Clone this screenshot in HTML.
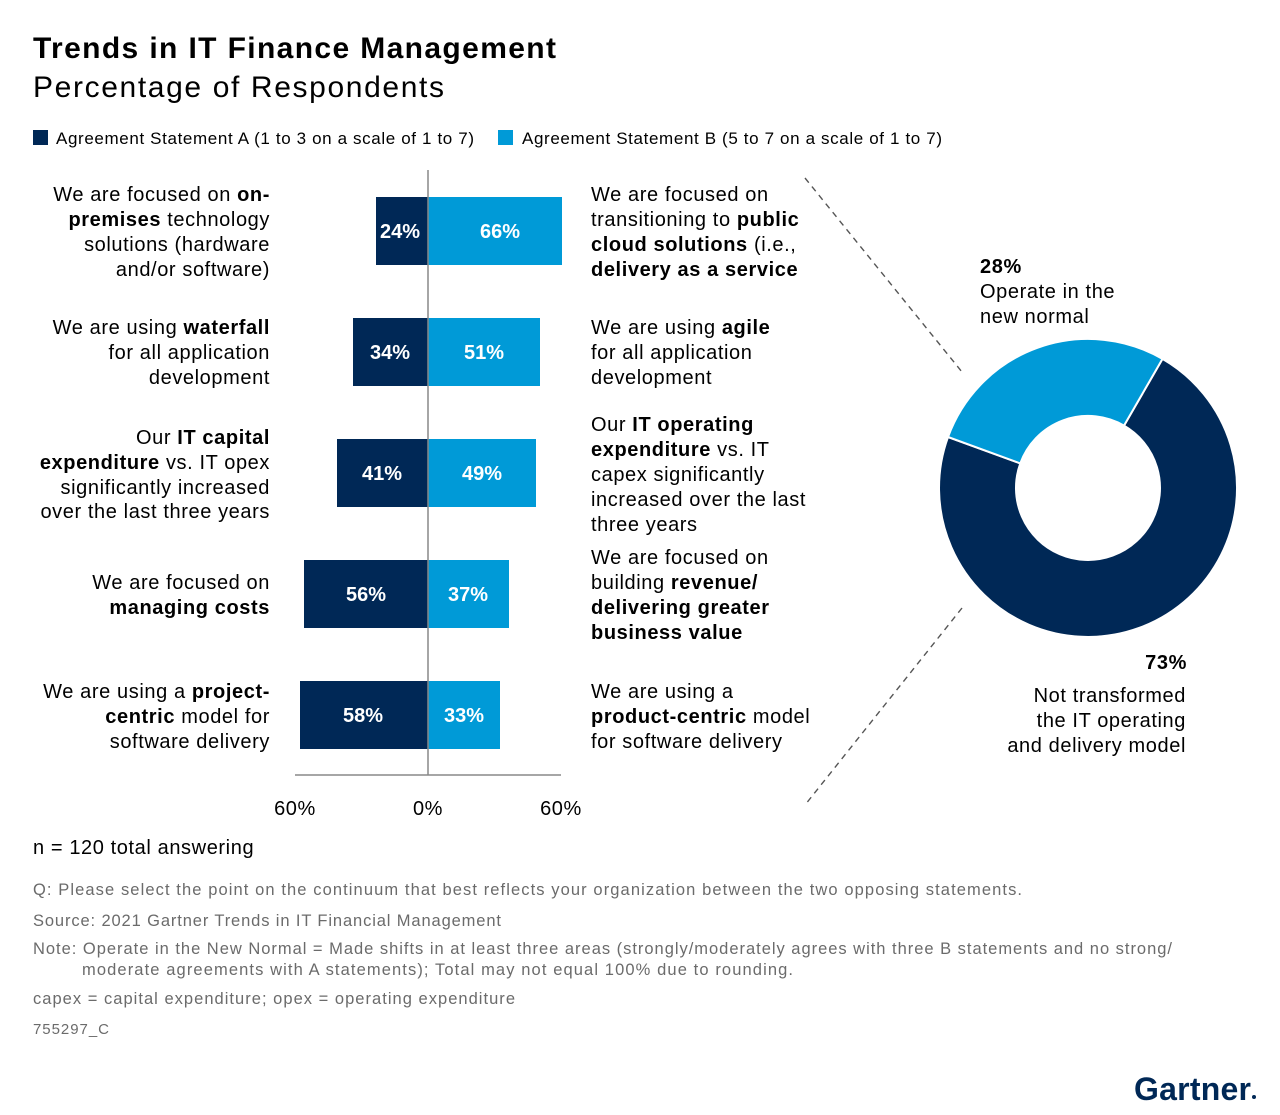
<!DOCTYPE html>
<html><head><meta charset="utf-8"><style>
html,body{margin:0;padding:0;background:#fff;}
svg{display:block;font-family:"Liberation Sans",sans-serif;}
.t{font-size:20px;fill:#000;letter-spacing:0.6px;}
.b{font-weight:bold;}
.r{text-anchor:end;}
.w{fill:#fff;font-weight:bold;font-size:20px;text-anchor:middle;}
.f{font-size:16.5px;fill:#6b6b6b;}
</style></head><body>
<svg width="1280" height="1115" viewBox="0 0 1280 1115" xmlns="http://www.w3.org/2000/svg">
<text x="33" y="58" font-size="30" font-weight="bold" fill="#000" textLength="523">Trends in IT Finance Management</text>
<text x="33" y="97" font-size="30" fill="#000" textLength="411">Percentage of Respondents</text>
<rect x="33" y="130" width="15" height="15" fill="#002856"/>
<text x="56" y="144" font-size="17" textLength="418">Agreement Statement A (1 to 3 on a scale of 1 to 7)</text>
<rect x="498" y="130" width="15" height="15" fill="#009ad7"/>
<text x="522" y="144" font-size="17" textLength="420">Agreement Statement B (5 to 7 on a scale of 1 to 7)</text>

<rect x="376" y="197" width="52" height="68" fill="#002856"/><rect x="428" y="197" width="134" height="68" fill="#009ad7"/>
<text class="w" x="400" y="238">24%</text><text class="w" x="500" y="238">66%</text>
<rect x="353" y="318" width="75" height="68" fill="#002856"/><rect x="428" y="318" width="112" height="68" fill="#009ad7"/>
<text class="w" x="390" y="359">34%</text><text class="w" x="484" y="359">51%</text>
<rect x="337" y="439" width="91" height="68" fill="#002856"/><rect x="428" y="439" width="108" height="68" fill="#009ad7"/>
<text class="w" x="382" y="480">41%</text><text class="w" x="482" y="480">49%</text>
<rect x="304" y="560" width="124" height="68" fill="#002856"/><rect x="428" y="560" width="81" height="68" fill="#009ad7"/>
<text class="w" x="366" y="601">56%</text><text class="w" x="468" y="601">37%</text>
<rect x="300" y="681" width="128" height="68" fill="#002856"/><rect x="428" y="681" width="72" height="68" fill="#009ad7"/>
<text class="w" x="363" y="722">58%</text><text class="w" x="464" y="722">33%</text>
<line x1="428" y1="170" x2="428" y2="775" stroke="#888" stroke-width="1.5"/>
<line x1="295" y1="775" x2="561" y2="775" stroke="#888" stroke-width="1.5"/>
<text class="t" x="295" y="815" text-anchor="middle">60%</text>
<text class="t" x="428" y="815" text-anchor="middle">0%</text>
<text class="t" x="561" y="815" text-anchor="middle">60%</text>

<g class="t r">
<text x="270" y="201">We are focused on <tspan class="b">on-</tspan></text>
<text x="270" y="226"><tspan class="b">premises</tspan> technology</text>
<text x="270" y="251">solutions (hardware</text>
<text x="270" y="276">and/or software)</text>
<text x="270" y="334">We are using <tspan class="b">waterfall</tspan></text>
<text x="270" y="359">for all application</text>
<text x="270" y="384">development</text>
<text x="270" y="444">Our <tspan class="b">IT capital</tspan></text>
<text x="270" y="469"><tspan class="b">expenditure</tspan> vs. IT opex</text>
<text x="270" y="494">significantly increased</text>
<text x="270" y="518">over the last three years</text>
<text x="270" y="589">We are focused on</text>
<text x="270" y="614" class="b">managing costs</text>
<text x="270" y="698">We are using a <tspan class="b">project-</tspan></text>
<text x="270" y="723"><tspan class="b">centric</tspan> model for</text>
<text x="270" y="748">software delivery</text>
</g>
<g class="t">
<text x="591" y="201">We are focused on</text>
<text x="591" y="226">transitioning to <tspan class="b">public</tspan></text>
<text x="591" y="251"><tspan class="b">cloud solutions</tspan> (i.e.,</text>
<text x="591" y="276" class="b">delivery as a service</text>
<text x="591" y="334">We are using <tspan class="b">agile</tspan></text>
<text x="591" y="359">for all application</text>
<text x="591" y="384">development</text>
<text x="591" y="431">Our <tspan class="b">IT operating</tspan></text>
<text x="591" y="456"><tspan class="b">expenditure</tspan> vs. IT</text>
<text x="591" y="481">capex significantly</text>
<text x="591" y="506">increased over the last</text>
<text x="591" y="531">three years</text>
<text x="591" y="564">We are focused on</text>
<text x="591" y="589">building <tspan class="b">revenue/</tspan></text>
<text x="591" y="614" class="b">delivering greater</text>
<text x="591" y="639" class="b">business value</text>
<text x="591" y="698">We are using a</text>
<text x="591" y="723"><tspan class="b">product-centric</tspan> model</text>
<text x="591" y="748">for software delivery</text>
</g>

<line x1="805" y1="178" x2="962" y2="372" stroke="#555" stroke-width="1.4" stroke-dasharray="6,5"/>
<line x1="962" y1="608" x2="805" y2="805" stroke="#555" stroke-width="1.4" stroke-dasharray="6,5"/>

<path d="M1162.5,358.9 A149,149 0 1,1 948.0,437.0 L1020.3,463.4 A72,72 0 1,0 1124.0,425.6 Z" fill="#002856" stroke="#fff" stroke-width="2"/>
<path d="M948.0,437.0 A149,149 0 0,1 1162.5,358.9 L1124.0,425.6 A72,72 0 0,0 1020.3,463.4 Z" fill="#009ad7" stroke="#fff" stroke-width="2"/>

<g class="t">
<text x="980" y="273" class="b">28%</text>
<text x="980" y="298">Operate in the</text>
<text x="980" y="323">new normal</text>
</g>
<g class="t r">
<text x="1187" y="669" class="b">73%</text>
<text x="1186" y="702">Not transformed</text>
<text x="1186" y="727">the IT operating</text>
<text x="1186" y="752">and delivery model</text>
</g>

<text class="t" x="33" y="854">n = 120 total answering</text>
<g class="f">
<text x="33" y="895" textLength="989">Q: Please select the point on the continuum that best reflects your organization between the two opposing statements.</text>
<text x="33" y="926" textLength="468">Source: 2021 Gartner Trends in IT Financial Management</text>
<text x="33" y="954" textLength="1139">Note: Operate in the New Normal = Made shifts in at least three areas (strongly/moderately agrees with three B statements and no strong/</text>
<text x="82" y="975" textLength="711">moderate agreements with A statements); Total may not equal 100% due to rounding.</text>
<text x="33" y="1004" textLength="482">capex = capital expenditure; opex = operating expenditure</text>
<text x="33" y="1034" font-size="15" textLength="76">755297_C</text>
</g>
<text x="1134" y="1100" font-size="32" font-weight="bold" fill="#002856" textLength="116" letter-spacing="-1">Gartner</text>
<circle cx="1254" cy="1097" r="2" fill="#002856"/>
</svg>
</body></html>
